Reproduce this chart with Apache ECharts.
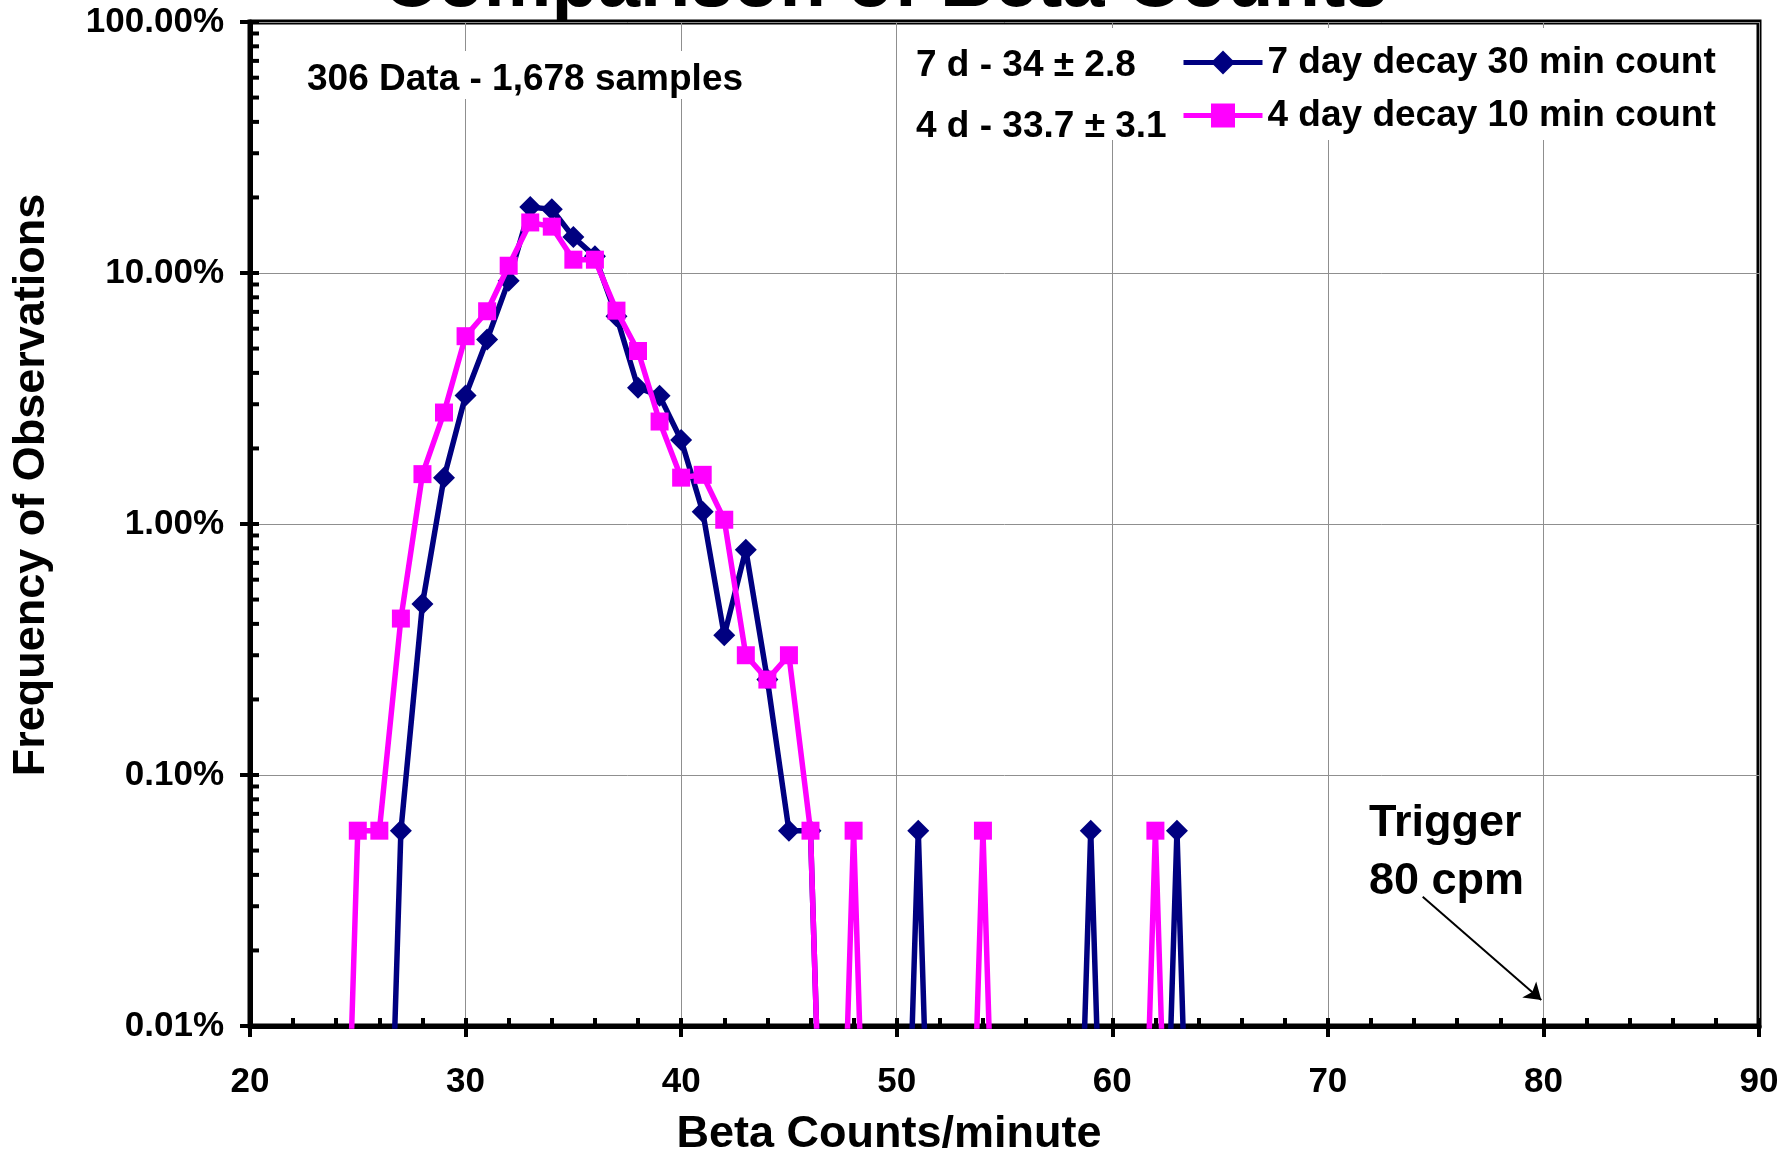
<!DOCTYPE html>
<html>
<head>
<meta charset="utf-8">
<title>Comparison of Beta Counts</title>
<script src="https://cdn.jsdelivr.net/npm/echarts@6/dist/echarts.min.js"></script>
<style>
  html, body { margin: 0; padding: 0; background: #ffffff; }
  #chart { width: 1785px; height: 1151px; }
</style>
</head>
<body>
<div id="chart"></div>
<script>
// Beta count bins (counts per minute)
const countBins = [
  20, 21, 22, 23, 24, 25, 26, 27, 28, 29,
  30, 31, 32, 33, 34, 35, 36, 37, 38, 39,
  40, 41, 42, 43, 44, 45, 46, 47, 48, 49,
  50, 51, 52, 53, 54, 55, 56, 57, 58, 59,
  60, 61, 62, 63, 64, 65, 66, 67, 68, 69, 70
];

// Frequency of observations (%) in each bin; 0 means no samples in the bin
const sevenDay30Min = [
  0, 0, 0, 0, 0, 0, 0, 0.06, 0.48, 1.53,
  3.25, 5.43, 9.32, 18.3, 17.96, 13.9, 11.65, 6.73, 3.49, 3.24,
  2.16, 1.12, 0.36, 0.79, 0.24, 0.06, 0.06, 0, 0, 0,
  0, 0.06, 0, 0, 0, 0, 0, 0, 0, 0.06,
  0, 0, 0, 0.06, 0, 0, 0, 0, 0, 0, 0
];

const fourDay10Min = [
  0, 0, 0, 0, 0, 0.06, 0.06, 0.42, 1.58, 2.78,
  5.60, 7.04, 10.69, 15.9, 15.3, 11.3, 11.3, 7.08, 4.89, 2.56,
  1.53, 1.57, 1.04, 0.30, 0.24, 0.30, 0.06, 0, 0.06, 0,
  0, 0, 0, 0, 0.06, 0, 0, 0, 0, 0,
  0, 0, 0.06, 0, 0, 0, 0, 0, 0, 0, 0
];

const seriesNames = ['7 day decay 30 min count', '4 day decay 10 min count'];

// Log-axis decades and the in-between minor tick multipliers
const yDecades = [0.01, 0.1, 1, 10, 100];
const yMinorSteps = [2, 3, 4, 5, 6, 7, 8, 9];

// A log axis cannot place 0, so empty bins sit well below the 0.01% floor
// and their segments drop off the bottom of the plot.
const EMPTY_BIN_LEVEL = 0.0001;

const FONT = '"Liberation Sans", Arial, sans-serif';

function toPoints(values) {
  return countBins.map(function (x, i) {
    const v = values[i];
    if (v > 0) return { value: [x, v] };
    return { value: [x, EMPTY_BIN_LEVEL], symbol: 'none' };
  });
}

// Inside tick marks for the log axis (decades + true log minors)
const yInsideTicks = [];
yDecades.forEach(function (d, i) {
  yInsideTicks.push([20, d]);
  if (i < yDecades.length - 1) {
    yMinorSteps.forEach(function (m) { yInsideTicks.push([20, d * m]); });
  }
});

const chart = echarts.init(document.getElementById('chart'), null, { renderer: 'canvas' });

const labelStyle = { fontSize: 35, fontWeight: 'bold', color: '#000', fontFamily: FONT };

function textEl(text, x, y, size, align, extra) {
  const el = {
    type: 'text',
    x: x, y: y, z: 20, silent: true,
    style: {
      text: text,
      font: 'bold ' + size + 'px ' + FONT,
      fill: '#000',
      align: align, verticalAlign: 'middle',
      textAlign: align, textVerticalAlign: 'middle'
    }
  };
  return Object.assign(el, extra || {});
}

const option = {
  animation: false,
  backgroundColor: '#ffffff',
  grid: {
    left: 250, right: 26, top: 22, bottom: 125,
    show: true, borderColor: '#000', borderWidth: 5,
    backgroundColor: 'transparent', containLabel: false
  },
  legend: {
    show: true,
    orient: 'vertical',
    left: 1181, top: 44,
    padding: 0,
    itemGap: 16,
    itemWidth: 79,
    itemHeight: 30,
    z: 30,
    selectedMode: false,
    data: seriesNames,
    lineStyle: { width: 5 },
    textStyle: { fontSize: 37, fontWeight: 'bold', color: '#000', fontFamily: FONT }
  },
  xAxis: [
    {
      type: 'value', min: 20, max: 90, interval: 10, position: 'bottom',
      axisLine: { show: true, onZero: false, lineStyle: { color: '#000', width: 5 } },
      axisTick: { show: true, inside: true, length: 8, lineStyle: { color: '#000', width: 4 } },
      minorTick: { show: true, splitNumber: 5, length: 8, lineStyle: { color: '#000', width: 4 } },
      axisLabel: Object.assign({ margin: 39 }, labelStyle),
      splitLine: { show: true, lineStyle: { color: '#8f8f8f', width: 1 } }
    },
    {
      type: 'value', min: 20, max: 90, interval: 10, position: 'bottom',
      axisLine: { show: false, onZero: false },
      axisTick: { show: true, inside: false, length: 11, lineStyle: { color: '#000', width: 4 } },
      axisLabel: { show: false },
      splitLine: { show: false }
    }
  ],
  yAxis: {
    type: 'log', logBase: 10, min: 0.01, max: 100,
    axisLine: { show: true, onZero: false, lineStyle: { color: '#000', width: 5 } },
    axisTick: { show: true, inside: false, length: 10, lineStyle: { color: '#000', width: 4 } },
    axisLabel: Object.assign({
      margin: 26,
      formatter: function (v) { return v.toFixed(2) + '%'; }
    }, labelStyle),
    splitLine: { show: true, lineStyle: { color: '#8f8f8f', width: 1 } }
  },
  series: [
    {
      type: 'custom',
      name: 'yInsideTicks',
      xAxisIndex: 0, yAxisIndex: 0,
      silent: true, clip: false, z: 3,
      data: yInsideTicks,
      renderItem: function (params, api) {
        const p = api.coord([api.value(0), api.value(1)]);
        return {
          type: 'line',
          shape: { x1: p[0], y1: p[1], x2: p[0] + 9, y2: p[1] },
          style: { stroke: '#000', lineWidth: 4 }
        };
      }
    },
    {
      name: seriesNames[0],
      type: 'line',
      xAxisIndex: 0, yAxisIndex: 0,
      data: toPoints(sevenDay30Min),
      symbol: 'diamond', symbolSize: 22,
      color: '#000080',
      itemStyle: { color: '#000080' },
      lineStyle: { color: '#000080', width: 5.5 },
      clip: true, z: 4,
      emphasis: { disabled: true }
    },
    {
      name: seriesNames[1],
      type: 'line',
      xAxisIndex: 0, yAxisIndex: 0,
      data: toPoints(fourDay10Min),
      symbol: 'rect', symbolSize: 18,
      color: '#ff00ff',
      itemStyle: { color: '#ff00ff' },
      lineStyle: { color: '#ff00ff', width: 5.5 },
      clip: true, z: 5,
      emphasis: { disabled: true },
      markLine: {
        silent: true,
        symbol: ['none', 'arrow'],
        symbolSize: 16,
        label: { show: false },
        emphasis: { disabled: true },
        lineStyle: { color: '#000', width: 2, type: 'solid' },
        data: [[{ coord: [74.4, 0.0327] }, { coord: [79.9, 0.0127] }]]
      }
    }
  ],
  graphic: [
    { type: 'rect', silent: true, z: 10, shape: { x: 905, y: 28, width: 840, height: 112 }, style: { fill: '#ffffff' } },
    { type: 'rect', silent: true, z: 10, shape: { x: 296, y: 51, width: 458, height: 48 }, style: { fill: '#ffffff' } },
    textEl('Comparison of Beta Counts', 885, -15, 76, 'center'),
    textEl('306 Data - 1,678 samples', 307, 79.5, 37, 'left'),
    textEl('7 d - 34 \u00b1 2.8', 916, 65.5, 37, 'left'),
    textEl('4 d - 33.7 \u00b1 3.1', 916, 127, 37, 'left'),
    textEl('Trigger', 1369, 824, 45, 'left'),
    textEl('80 cpm', 1369, 882, 45, 'left'),
    textEl('Beta Counts/minute', 889, 1134.5, 45, 'center'),
    textEl('Frequency of Observations', 32, 485, 45, 'center', { rotation: Math.PI / 2 })
  ]
};

chart.setOption(option);
</script>
</body>
</html>
